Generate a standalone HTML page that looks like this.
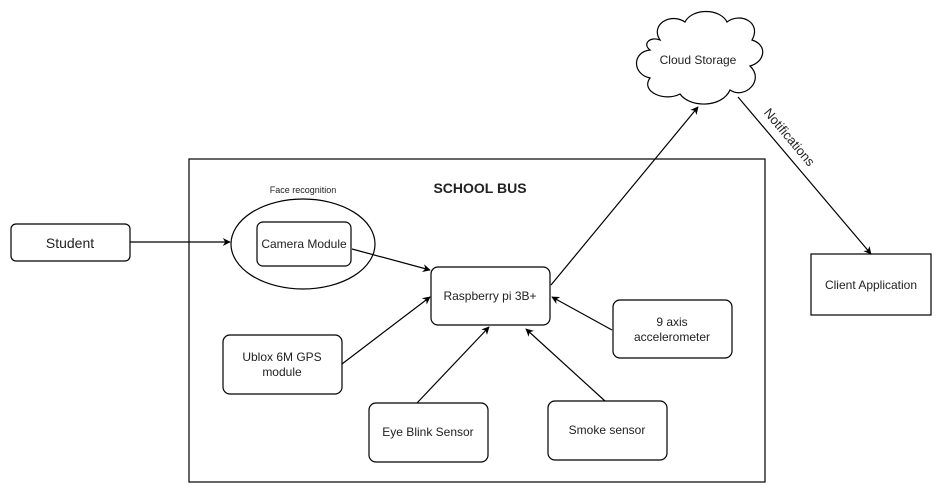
<!DOCTYPE html>
<html><head><style>
body{margin:0;background:#fff;}
svg text{font-family:"Liberation Sans",Arial,sans-serif;fill:#222;}
</style></head><body>
<svg width="942" height="493" viewBox="0 0 942 493" xmlns="http://www.w3.org/2000/svg">
<defs><marker id="a" viewBox="0 0 10 10" refX="9" refY="5" markerWidth="8" markerHeight="8" orient="auto" markerUnits="userSpaceOnUse"><path d="M0,0 L10,5 L0,10 L3,5 z" fill="#000"/></marker></defs>
<g fill="#fff" stroke="#000" stroke-width="1.2">
<rect x="189" y="159" width="576" height="323"/>
<rect x="11" y="224" width="119" height="37" rx="5"/>
<ellipse cx="303" cy="244" rx="72" ry="45"/>
<rect x="257" y="222" width="94" height="44" rx="6"/>
<rect x="431" y="267" width="119" height="58" rx="7"/>
<rect x="223" y="335" width="119" height="59" rx="7"/>
<rect x="369" y="403" width="119" height="59" rx="7"/>
<rect x="548" y="401" width="119" height="59" rx="7"/>
<rect x="613" y="300" width="119" height="58" rx="7"/>
<rect x="811" y="254" width="120" height="61"/>
<path d="M660,40 C650,25 670,12 685,22 C692,8 720,8 727,22 C740,12 762,22 752,40 C768,45 765,62 750,66 C765,80 745,100 730,90 C722,108 690,108 680,94 C665,102 640,92 650,78 C632,74 632,52 650,50 C642,44 650,36 660,40 Z"/>
</g>
<g stroke="#000" stroke-width="1.2" fill="none" marker-end="url(#a)">
<line x1="130" y1="242" x2="230" y2="242"/>
<line x1="352" y1="249" x2="430" y2="270"/>
<line x1="342" y1="364" x2="430" y2="297"/>
<line x1="417" y1="403" x2="489" y2="327"/>
<line x1="605" y1="401" x2="526" y2="329"/>
<line x1="612" y1="330" x2="552" y2="297"/>
<line x1="551" y1="285" x2="698" y2="107"/>
<line x1="738" y1="97" x2="871" y2="254"/>
</g>
<g font-size="12" text-anchor="middle">
<text x="70" y="248" font-size="14">Student</text>
<text x="303" y="193" font-size="9">Face recognition</text>
<text x="480" y="193" font-size="14" font-weight="bold">SCHOOL BUS</text>
<text x="304" y="248">Camera Module</text>
<text x="490" y="300">Raspberry pi 3B+</text>
<text x="282" y="361">Ublox 6M GPS</text>
<text x="282" y="376">module</text>
<text x="428" y="436">Eye Blink Sensor</text>
<text x="607" y="434">Smoke sensor</text>
<text x="672" y="326">9 axis</text>
<text x="672" y="341">accelerometer</text>
<text x="871" y="289">Client Application</text>
<text x="698" y="64">Cloud Storage</text>
<text x="0" y="0" font-size="13" transform="translate(786,140) rotate(50)">Notifications</text>
</g>
</svg>
</body></html>
